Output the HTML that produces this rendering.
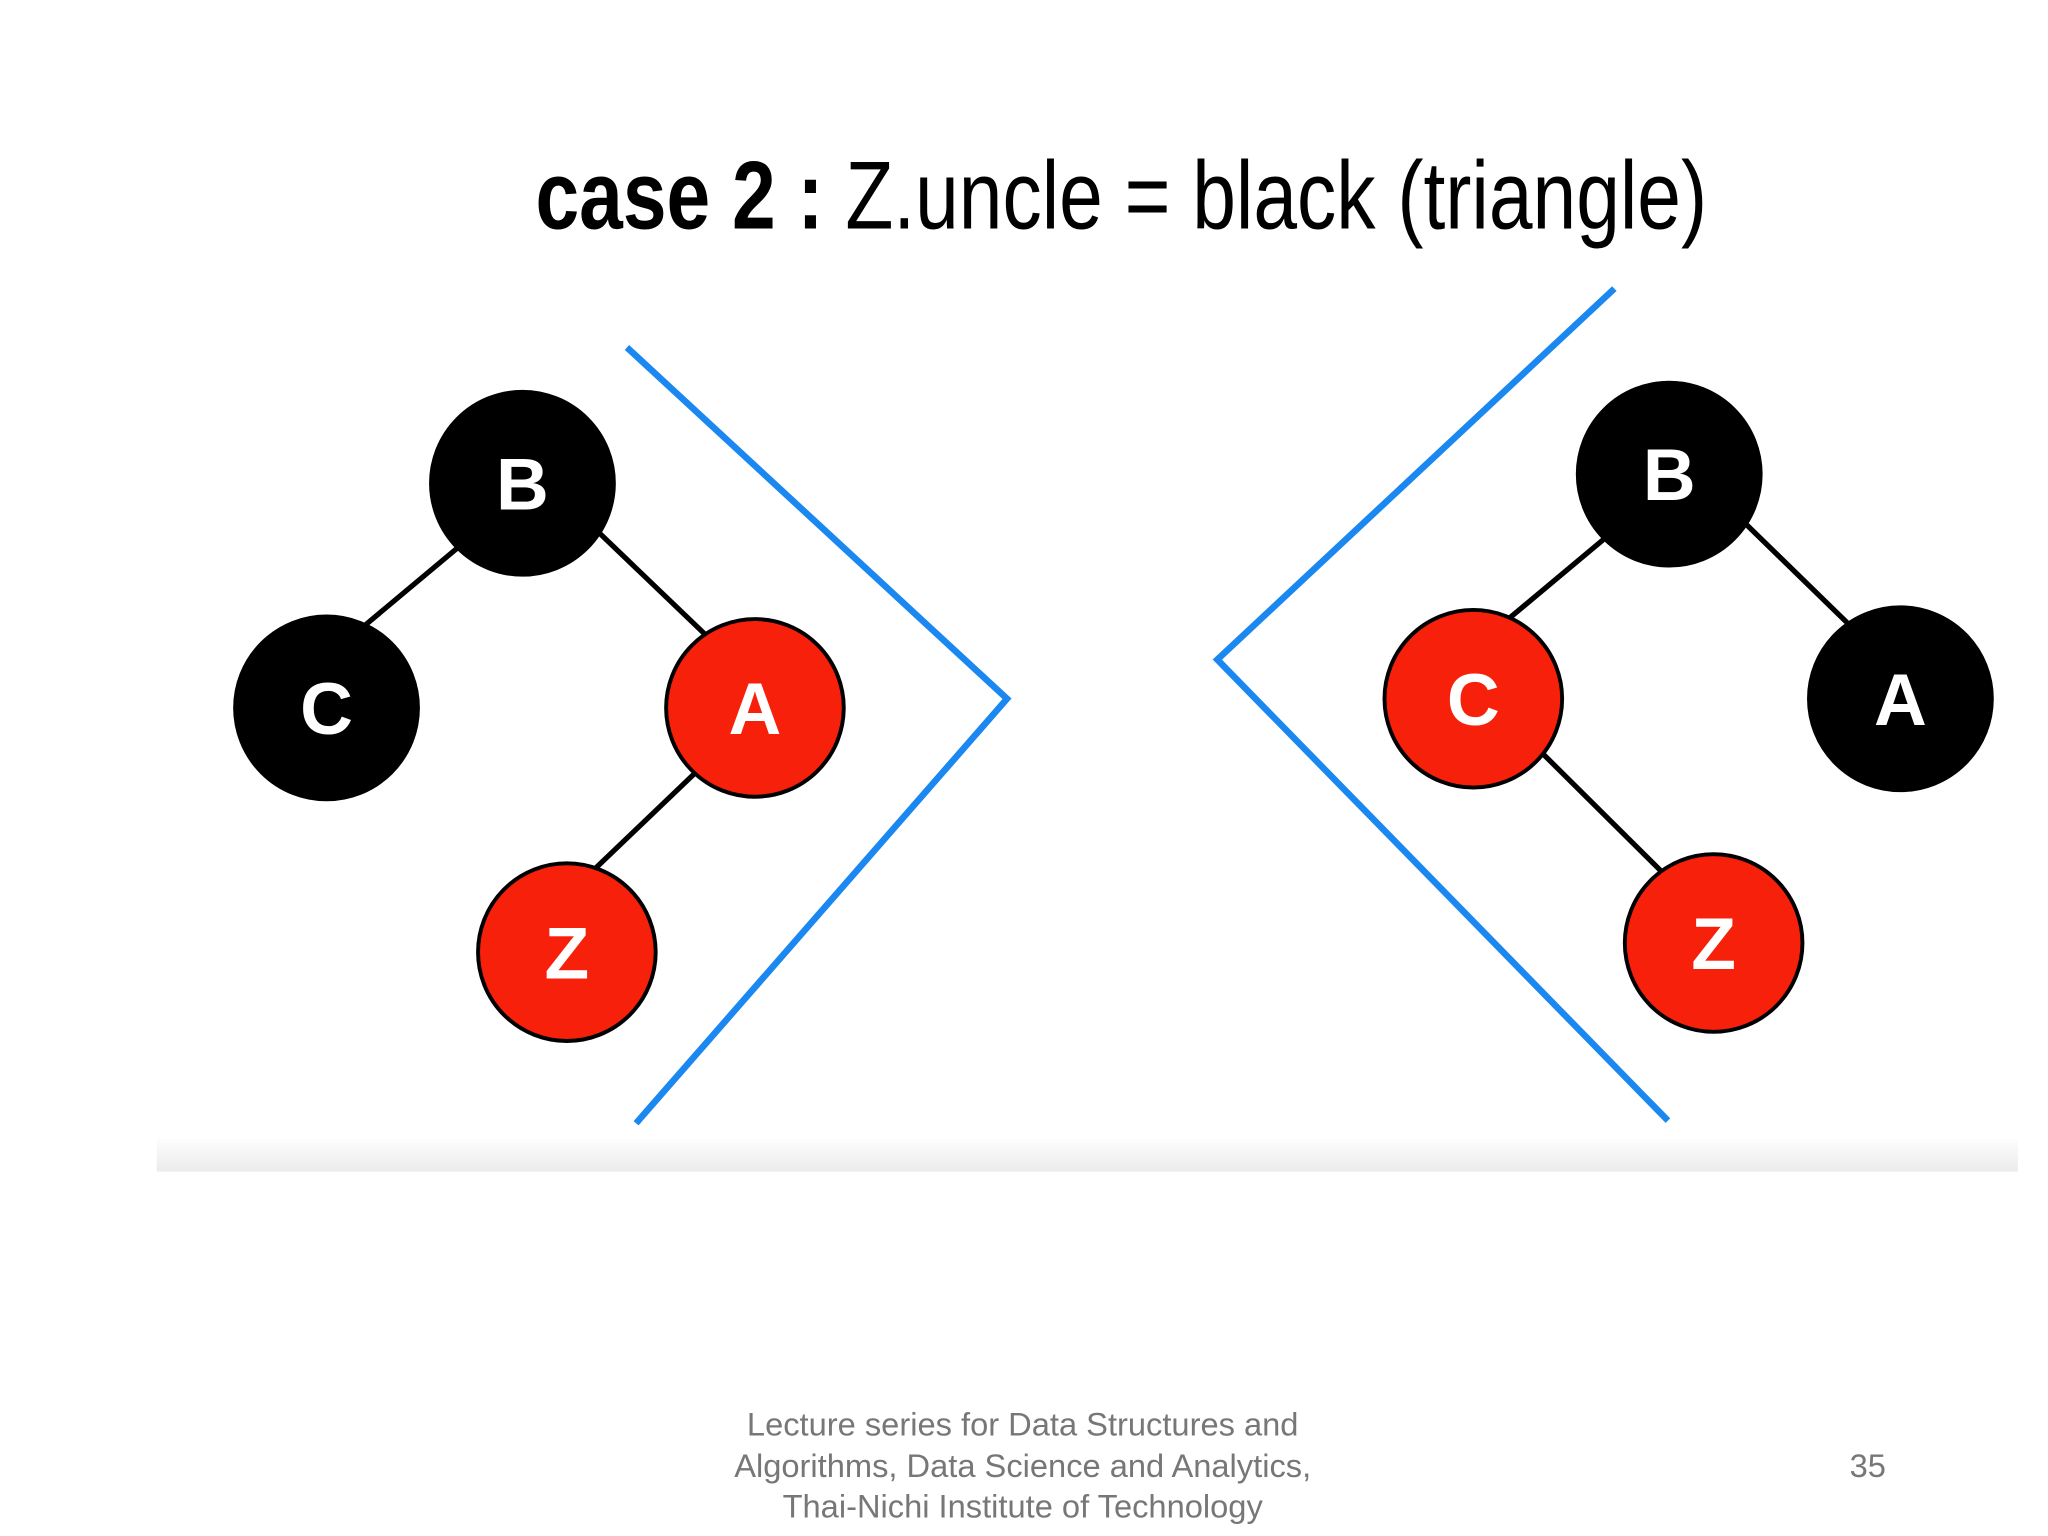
<!DOCTYPE html>
<html><head><meta charset="utf-8"><style>html,body{margin:0;padding:0;background:#fff}svg{display:block}</style></head>
<body>
<svg width="2048" height="1536" viewBox="0 0 1568 1176" xmlns="http://www.w3.org/2000/svg">
<defs><linearGradient id="sh" x1="0" y1="0" x2="0" y2="1"><stop offset="0" stop-color="#fdfdfd"/><stop offset="1" stop-color="#ebebeb"/></linearGradient></defs>
<rect width="1568" height="1176" fill="#fff"/>
<rect x="120" y="872" width="1425" height="25" fill="url(#sh)"/>
<text x="410" y="175" font-family="Liberation Sans Narrow, Liberation Sans, sans-serif" font-size="74" textLength="897" lengthAdjust="spacingAndGlyphs" fill="#000"><tspan font-weight="bold">case 2 :</tspan> Z.uncle = black (triangle)</text>
<g stroke="#1a88f0" stroke-width="5" fill="none">
<polyline points="480,266 771,535 487,860"/>
<polyline points="1236,221 932,505 1277,858"/>
</g>
<g stroke="#000" stroke-width="4">
<line x1="370" y1="403" x2="260" y2="495"/><line x1="440" y1="390" x2="560" y2="505"/><line x1="555" y1="570" x2="440" y2="680"/>
<line x1="1248" y1="396" x2="1138" y2="488"/><line x1="1318" y1="383" x2="1435" y2="497"/><line x1="1160" y1="556" x2="1295" y2="690"/>
</g>
<g stroke="#000" stroke-width="3">
<circle cx="400" cy="370" r="70" fill="#000"/><circle cx="250" cy="542" r="70" fill="#000"/>
<circle cx="578" cy="542" r="68" fill="#f7200a"/><circle cx="434" cy="729" r="68" fill="#f7200a"/>
<circle cx="1278" cy="363" r="70" fill="#000"/><circle cx="1455" cy="535" r="70" fill="#000"/>
<circle cx="1128" cy="535" r="68" fill="#f7200a"/><circle cx="1312" cy="722" r="68" fill="#f7200a"/>
</g>
<g fill="#fff" font-family="Liberation Sans, sans-serif" font-size="56" font-weight="bold" text-anchor="middle">
<text x="400" y="390">B</text><text x="250" y="562">C</text><text x="578" y="562">A</text><text x="434" y="749">Z</text>
<text x="1278" y="383">B</text><text x="1128" y="555">C</text><text x="1455" y="555">A</text><text x="1312" y="742">Z</text>
</g>
<g fill="#777" font-family="Liberation Sans, sans-serif" font-size="25" text-anchor="middle">
<text x="783" y="1099">Lecture series for Data Structures and</text>
<text x="783" y="1131">Algorithms, Data Science and Analytics,</text>
<text x="783" y="1162">Thai-Nichi Institute of Technology</text>
<text x="1430" y="1131">35</text>
</g>
</svg>
</body></html>
